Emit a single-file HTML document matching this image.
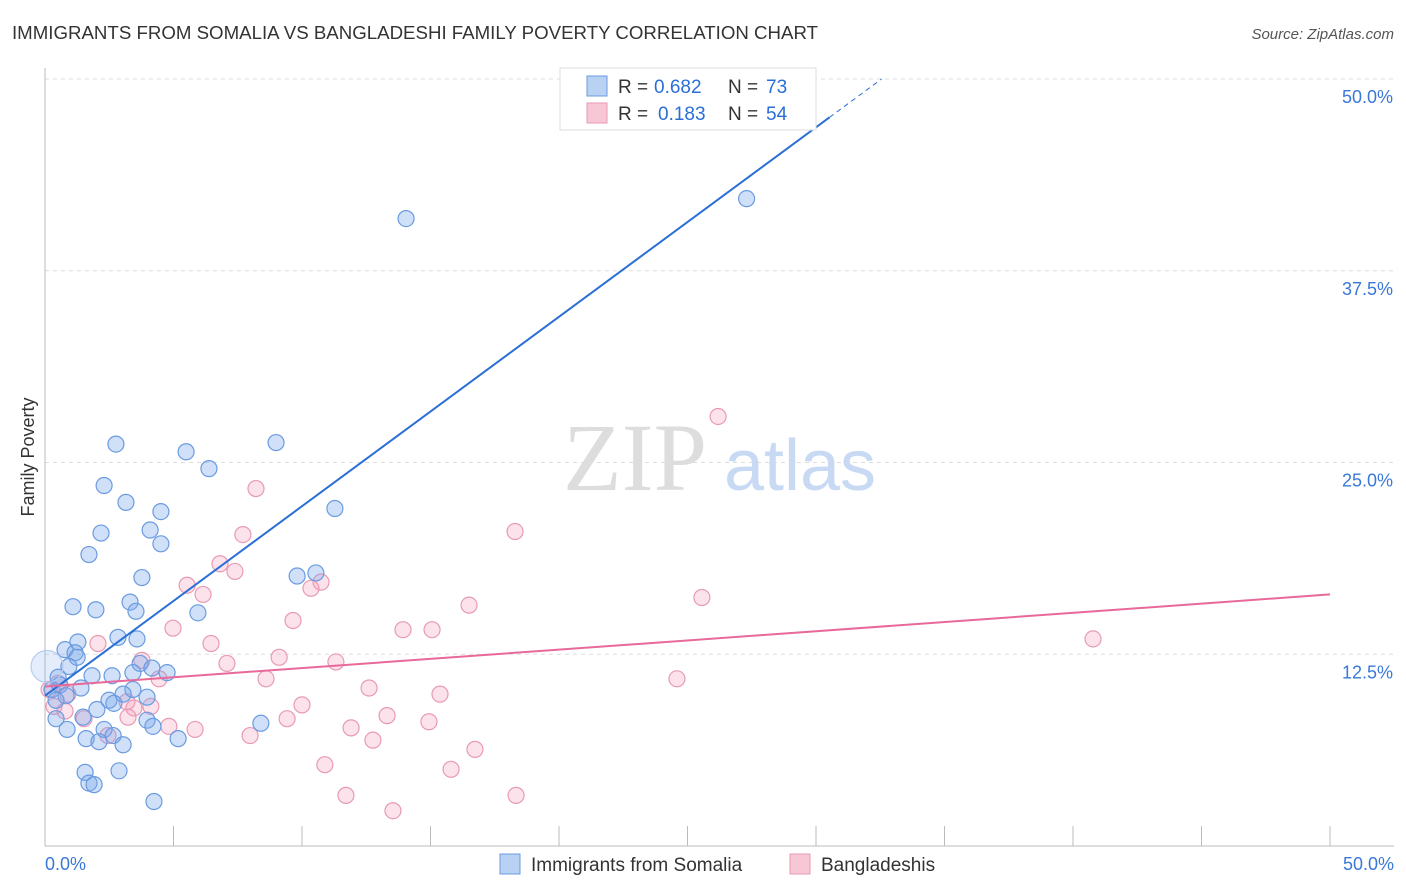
<!DOCTYPE html>
<html><head><meta charset="utf-8"><style>
body{margin:0;background:#fff;font-family:"Liberation Sans",sans-serif;}
svg{display:block}
</style></head><body>
<svg id="chart" width="1406" height="892">
<text x="12" y="39" font-size="18" fill="#333" textLength="806" lengthAdjust="spacingAndGlyphs">IMMIGRANTS FROM SOMALIA VS BANGLADESHI FAMILY POVERTY CORRELATION CHART</text>
<text x="1394" y="39" font-size="15" fill="#555" font-style="italic" text-anchor="end">Source: ZipAtlas.com</text>
<text x="34" y="457" font-size="18" fill="#333" text-anchor="middle" transform="rotate(-90 34 457)">Family Poverty</text>
<g id="grid"></g>
<g><text x="635" y="490" font-size="96" fill="#ddd" font-family="Liberation Serif,serif" text-anchor="middle">ZIP</text><text x="800" y="490" font-size="72" fill="#c8daf3" text-anchor="middle">atlas</text></g>
<g id="axes"></g>
<g id="pts"></g>
<g id="lines"></g>
<g>
<rect x="560" y="68" width="256" height="62" fill="#fff" stroke="#ddd"/>
<rect x="587" y="76" width="20" height="20" fill="#b9d1f3" stroke="#6a9be0"/>
<text x="618" y="93" font-size="19" fill="#333">R =</text>
<text x="654" y="93" font-size="19" fill="#2a6fd6">0.682</text>
<text x="728" y="93" font-size="19" fill="#333">N =</text>
<text x="766" y="93" font-size="19" fill="#2a6fd6">73</text>
<rect x="587" y="103" width="20" height="20" fill="#f8c7d6" stroke="#e89ab4"/>
<text x="618" y="120" font-size="19" fill="#333">R =</text>
<text x="658" y="120" font-size="19" fill="#2a6fd6">0.183</text>
<text x="728" y="120" font-size="19" fill="#333">N =</text>
<text x="766" y="120" font-size="19" fill="#2a6fd6">54</text>
</g>
<g>
<rect x="500" y="854" width="20" height="20" fill="#b9d1f3" stroke="#6a9be0"/>
<text x="531" y="871" font-size="19" fill="#333">Immigrants from Somalia</text>
<rect x="790" y="854" width="20" height="20" fill="#f8c7d6" stroke="#e89ab4"/>
<text x="821" y="871" font-size="19" fill="#333">Bangladeshis</text>
</g>
</svg>
<script>
const yTicks=[12.5,25,37.5,50];
const yTickLabels=["12.5%","25.0%","37.5%","50.0%"];
const xTickLabels=["0.0%","50.0%"];
const somaliaX=[14.05,27.3,2.76,5.49,8.99,6.38,2.30,3.15,4.51,11.28,4.09,2.18,4.51,1.71,3.77,9.81,10.54,1.09,1.98,3.31,3.54,5.95,2.84,3.58,1.28,0.78,1.17,1.25,3.70,4.16,4.75,3.42,0.93,0.51,1.83,2.61,0.27,0.58,1.40,3.42,3.04,3.97,2.49,2.68,0.82,0.43,2.02,1.48,3.97,4.20,0.43,0.86,2.30,2.65,1.60,2.10,3.04,5.18,8.40,1.56,2.88,1.71,1.91,4.24,0.08];
const somaliaY=[40.9,42.2,26.2,25.7,26.3,24.6,23.5,22.4,21.8,22.0,20.6,20.4,19.7,19.0,17.5,17.6,17.8,15.6,15.4,15.9,15.3,15.2,13.6,13.5,13.3,12.8,12.6,12.3,11.9,11.6,11.3,11.3,11.7,11.0,11.1,11.1,10.2,10.5,10.3,10.2,9.9,9.7,9.5,9.3,9.8,9.5,8.9,8.4,8.2,7.8,8.3,7.6,7.6,7.2,7.0,6.8,6.6,7.0,8.0,4.8,4.9,4.1,4.0,2.9,11.7];
const bangX=[26.19,8.21,7.70,18.29,6.81,7.39,5.53,10.74,10.35,6.15,25.56,16.50,4.98,9.65,13.93,15.06,2.06,6.46,40.78,3.77,7.08,9.11,11.32,4.44,8.60,24.59,12.61,15.37,0.51,0.89,0.35,3.19,10.0,4.12,3.46,1.52,3.23,13.31,14.94,9.42,4.82,5.84,11.91,7.98,12.76,16.73,10.89,15.80,11.71,18.33,13.54,0.16,0.78,2.45];
const bangY=[28.0,23.3,20.3,20.5,18.4,17.9,17.0,17.2,16.8,16.4,16.2,15.7,14.2,14.7,14.1,14.1,13.2,13.2,13.5,12.1,11.9,12.3,12.0,10.9,10.9,10.9,10.3,9.9,10.6,9.9,9.1,9.4,9.2,9.1,9.0,8.3,8.4,8.5,8.1,8.3,7.8,7.6,7.7,7.2,6.9,6.3,5.3,5.0,3.3,3.3,2.3,10.2,8.8,7.2];
const somaliaTrend=[9.8,1.235];
const bangTrend=[10.4,0.12];
const X=v=>45+v*25.7, Y=v=>846-v*15.34;
const NS="http://www.w3.org/2000/svg";
function mk(tag,attrs,parent){const e=document.createElementNS(NS,tag);for(const k in attrs)e.setAttribute(k,attrs[k]);document.getElementById(parent).appendChild(e);return e;}
yTicks.forEach((t,i)=>{
 const l=mk('line',{x1:45,x2:1394,y1:Y(t),y2:Y(t),stroke:'#ddd','stroke-dasharray':'4,4'},'grid');
 
 
 const tx=mk('text',{x:1393,y:Y(t)+24,'font-size':18,fill:'#3a78d8','text-anchor':'end'},'axes');
 tx.textContent=yTickLabels[i];
 
 
});
const ax=mk('line',{x1:45,x2:1394,y1:846,y2:846,stroke:'#bbb'},'axes');


const ay=mk('line',{x1:45,x2:45,y1:68,y2:846,stroke:'#bbb'},'axes');


for(let i=0;i<=10;i++){
 const t=mk('line',{x1:X(i*5),x2:X(i*5),y1:826,y2:846,stroke:'#bbb'},'axes');
 
 
}
[[0,'start',45],[50,'end',1394]].forEach((d,i)=>{
 const tx=mk('text',{x:d[2],y:870,'font-size':18,fill:'#3a78d8','text-anchor':d[1]},'axes');
 tx.textContent=xTickLabels[i];
 
 
});
bangX.forEach((x,i)=>{
 const c=mk('circle',{cx:X(x),cy:Y(bangY[i]),r:8,fill:'rgba(244,160,190,0.3)',stroke:'#e89ab4','stroke-width':1.2},'pts');
 
 
});
somaliaX.forEach((x,i)=>{
 const big=i==somaliaX.length-1;
 const c=mk('circle',{cx:X(x),cy:Y(somaliaY[i]),r:big?16:8,fill:big?'rgba(120,165,235,0.2)':'rgba(120,165,235,0.35)',stroke:big?'#b7cdf0':'#6a9be0','stroke-width':1.2},'pts');
 
 
});
const xEnd=(50-somaliaTrend[0])/somaliaTrend[1];
const xSolid=(47.5-somaliaTrend[0])/somaliaTrend[1];
const b1=mk('line',{x1:X(0),y1:Y(somaliaTrend[0]),x2:X(xSolid),y2:Y(somaliaTrend[0]+somaliaTrend[1]*xSolid),stroke:'#2a6fd6','stroke-width':2},'lines');


const b2=mk('line',{x1:X(xSolid),y1:Y(somaliaTrend[0]+somaliaTrend[1]*xSolid),x2:X(xEnd),y2:Y(50),stroke:'#2a6fd6','stroke-width':1,'stroke-dasharray':'5,4'},'lines');


const p=mk('line',{x1:X(0),y1:Y(bangTrend[0]),x2:X(50),y2:Y(bangTrend[0]+bangTrend[1]*50),stroke:'#e8699a','stroke-width':2},'lines');


</script>
</body></html>
